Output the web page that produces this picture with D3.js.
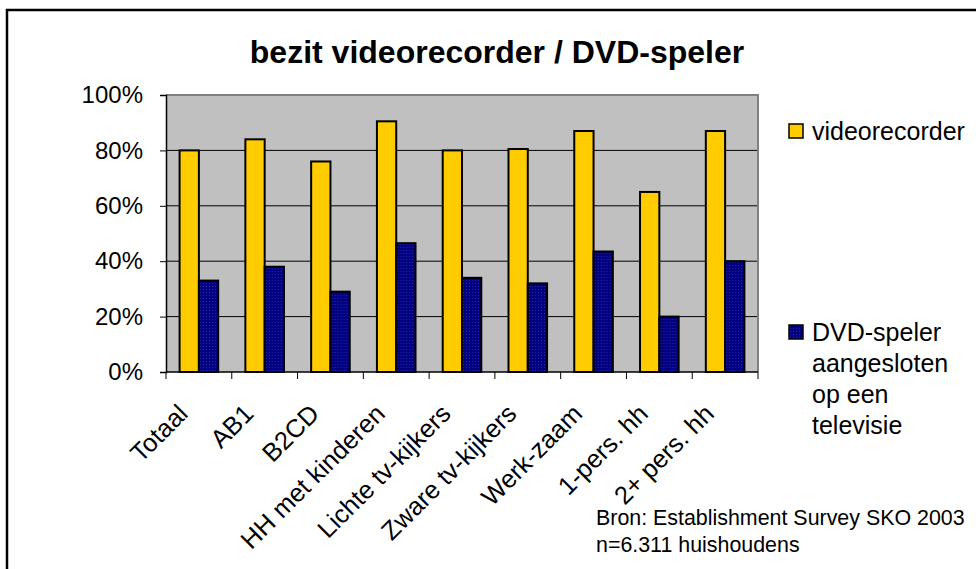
<!DOCTYPE html>
<html>
<head>
<meta charset="utf-8">
<script src="https://cdn.jsdelivr.net/npm/d3@7"></script>
<style>
  body { margin: 0; background: #fff; }
  text { font-family: "Liberation Sans", Arial, sans-serif; fill: #000; }
</style>
</head>
<body>
<div id="chart"></div>
<script>
// bezit videorecorder / DVD-speler (SKO 2003)
var categories = ["Totaal", "AB1", "B2CD", "HH met kinderen", "Lichte tv-kijkers",
                  "Zware tv-kijkers", "Werk-zaam", "1-pers. hh", "2+ pers. hh"];
var videorecorder = [0.80, 0.84, 0.76, 0.905, 0.80, 0.805, 0.87, 0.65, 0.87];
var dvdspeler = [0.33, 0.38, 0.29, 0.465, 0.34, 0.32, 0.435, 0.20, 0.40];
var yTicks = [0, 0.2, 0.4, 0.6, 0.8, 1.0];

var width = 976, height = 569;
var plotLeft = 166, plotRight = 758, plotTop = 95, plotBottom = 372;

var svg = d3.select("#chart").append("svg")
    .attr("width", width)
    .attr("height", height);

// dotted fill for the dvd bars
var pat = svg.append("defs").append("pattern")
    .attr("id", "dots")
    .attr("width", 3).attr("height", 3)
    .attr("patternUnits", "userSpaceOnUse");
pat.append("rect").attr("width", 3).attr("height", 3).attr("fill", "#000080");
pat.append("rect").attr("x", 1).attr("y", 1).attr("width", 1).attr("height", 1).attr("fill", "#2a2aa8");

// outer frame (runs off the page on right and bottom)
svg.append("rect")
    .attr("x", 7).attr("y", 10)
    .attr("width", 1000).attr("height", 600)
    .attr("fill", "none")
    .attr("stroke", "#000")
    .attr("stroke-width", 2.5);

svg.append("text")
    .attr("x", 497).attr("y", 63)
    .attr("text-anchor", "middle")
    .style("font-size", "32px")
    .style("font-weight", "bold")
    .text("bezit videorecorder / DVD-speler");

var x = d3.scaleBand().domain(categories).range([plotLeft, plotRight]);
var xs = d3.scaleBand().domain([0, 1])
    .range([13.6, x.bandwidth() - 13.6]);
var y = d3.scaleLinear().domain([0, 1]).range([plotBottom, plotTop]);

// plot background
svg.append("rect")
    .attr("x", plotLeft).attr("y", plotTop)
    .attr("width", plotRight - plotLeft).attr("height", plotBottom - plotTop)
    .attr("fill", "#c0c0c0");

// gridlines
svg.selectAll(".grid")
    .data(yTicks.filter(function(d) { return d > 0 && d < 1; }))
    .enter().append("line")
    .attr("x1", plotLeft).attr("x2", plotRight)
    .attr("y1", function(d) { return y(d); })
    .attr("y2", function(d) { return y(d); })
    .attr("stroke", "#000")
    .attr("stroke-width", 1);

// grey top / right border of plot area
svg.append("path")
    .attr("d", "M" + plotLeft + "," + plotTop + "H" + plotRight + "V" + plotBottom)
    .attr("fill", "none")
    .attr("stroke", "#808080")
    .attr("stroke-width", 2);

// bars
var groups = svg.selectAll(".cat")
    .data(categories)
    .enter().append("g")
    .attr("transform", function(d) { return "translate(" + x(d) + ",0)"; });

groups.selectAll("rect")
    .data(function(d, i) { return [videorecorder[i], dvdspeler[i]]; })
    .enter().append("rect")
    .attr("x", function(d, j) { return xs(j); })
    .attr("y", function(d) { return y(d); })
    .attr("width", xs.bandwidth())
    .attr("height", function(d) { return plotBottom - y(d); })
    .attr("fill", function(d, j) { return j == 0 ? "#ffcc00" : "url(#dots)"; })
    .attr("stroke", "#000")
    .attr("stroke-width", 2);

// y axis
var yAxis = svg.append("g")
    .attr("transform", "translate(" + plotLeft + ",0)")
    .call(d3.axisLeft(y).tickValues(yTicks).tickFormat(d3.format(".0%"))
        .tickSize(6).tickPadding(17));
yAxis.select(".domain").attr("stroke", "#000").attr("stroke-width", 1.5);
yAxis.selectAll(".tick line").attr("stroke", "#000");
yAxis.selectAll("text").style("font-size", "24px").style("font-family", "Liberation Sans, Arial, sans-serif");

// x axis: ticks on category boundaries
svg.append("line")
    .attr("x1", plotLeft).attr("x2", plotRight)
    .attr("y1", plotBottom).attr("y2", plotBottom)
    .attr("stroke", "#000").attr("stroke-width", 1.5);
var bounds = categories.map(function(d) { return x(d); }).concat([plotRight]);
svg.selectAll(".xtick")
    .data(bounds)
    .enter().append("line")
    .attr("x1", function(d) { return d; }).attr("x2", function(d) { return d; })
    .attr("y1", plotBottom).attr("y2", plotBottom + 7)
    .attr("stroke", "#000");

svg.selectAll(".xlabel")
    .data(categories)
    .enter().append("text")
    .attr("text-anchor", "end")
    .attr("dy", "0.35em")
    .attr("transform", function(d) {
        return "translate(" + (x(d) + x.bandwidth() / 2 - 16) + ",409) rotate(-45)";
    })
    .style("font-size", "25.5px")
    .text(function(d) { return d; });

// legend
var legend = [
    { fill: "#ffcc00", y: 131, lines: ["videorecorder"] },
    { fill: "url(#dots)", y: 332, lines: ["DVD-speler", "aangesloten", "op een", "televisie"] }
];
legend.forEach(function(l) {
    svg.append("rect")
        .attr("x", 789).attr("y", l.y - 7)
        .attr("width", 14).attr("height", 14)
        .attr("fill", l.fill)
        .attr("stroke", "#000").attr("stroke-width", 1.5);
    var t = svg.append("text")
        .attr("x", 812).attr("y", l.y)
        .style("font-size", "25px");
    l.lines.forEach(function(s, i) {
        t.append("tspan").attr("x", 812).attr("dy", i == 0 ? "0.35em" : "31px").text(s);
    });
});

// source note
svg.append("text")
    .attr("x", 596).attr("y", 525)
    .style("font-size", "21.4px")
    .text("Bron: Establishment Survey SKO 2003");
svg.append("text")
    .attr("x", 596).attr("y", 552)
    .style("font-size", "21.4px")
    .text("n=6.311 huishoudens");
</script>
</body>
</html>
